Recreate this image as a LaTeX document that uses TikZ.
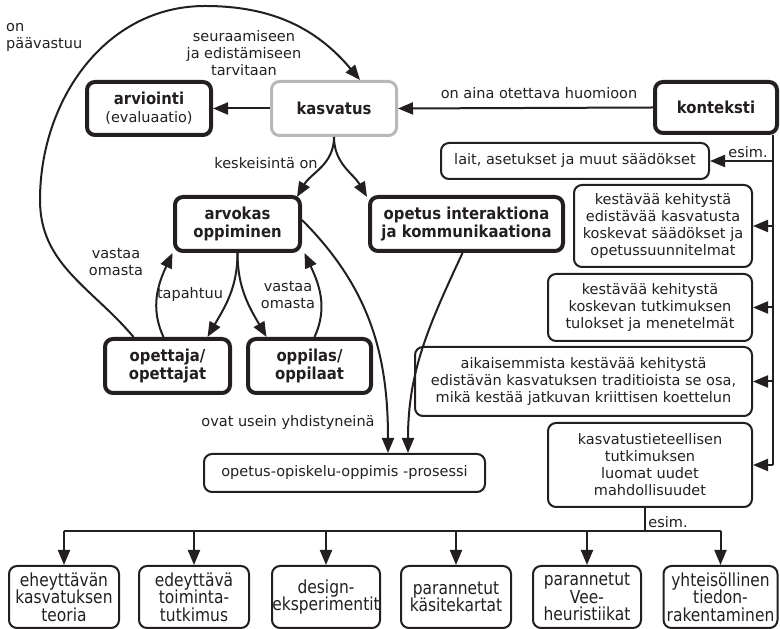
\documentclass[tikz,border=0pt]{standalone}
\usepackage{fontspec}
\setmainfont{DejaVu Sans}
\newfontfamily\narrowfont[FakeStretch=0.86]{DejaVu Sans}
\newfontfamily\headfont[FakeStretch=0.9]{DejaVu Sans}
\newcommand\plainline{\normalfont\fontsize{14.5}{18}\selectfont}
\usetikzlibrary{arrows.meta,calc}
\definecolor{ink}{HTML}{231F20}
\definecolor{paleedge}{HTML}{B8B8B8}
\begin{document}
\begin{tikzpicture}[x=1pt,y=1pt,
  every node/.style={font=\fontsize{14.5}{17}\selectfont, text=ink},
  box/.style={draw=ink, rounded corners=8pt, align=center, inner sep=0pt, line width=2pt},
  strongbox/.style={box, line width=4pt, font=\headfont\bfseries\fontsize{16.5}{18}\selectfont},
  greybox/.style={strongbox, draw=paleedge, line width=3pt},
  leafbox/.style={box, minimum height=62pt, font=\narrowfont\fontsize{18}{17.5}\selectfont},
  arr/.style={draw=ink, line width=2pt, -{Triangle[length=15pt,width=12pt]}},
  wire/.style={draw=ink, line width=2pt},
  lbl/.style={align=center, inner sep=0pt}
]
\useasboundingbox (0,0) rectangle (780,629);

% upper part
\node[greybox, minimum width=125pt, minimum height=54pt] (kasvatus) at (334,520.5) {kasvatus};
\node[strongbox, minimum width=124pt, minimum height=53pt] (arviointi) at (149,520.5) {arviointi\\{\plainline(evaluaatio)}};
\node[strongbox, minimum width=122pt, minimum height=51pt] (konteksti) at (716,521.5) {konteksti};

% context examples
\node[box, minimum width=268pt, minimum height=36pt] (lait) at (575,468) {lait, asetukset ja muut säädökset};
\node[box, minimum width=178pt, minimum height=82pt] (k1) at (663,403) {kestävää kehitystä\\edistävää kasvatusta\\koskevat säädökset ja\\opetussuunnitelmat};
\node[box, minimum width=204pt, minimum height=67pt] (k2) at (650,321.5) {kestävää kehitystä\\koskevan tutkimuksen\\tulokset ja menetelmät};
\node[box, minimum width=337pt, minimum height=69pt] (aik) at (583.5,247.5) {aikaisemmista kestävää kehitystä\\edistävän kasvatuksen traditioista se osa,\\mikä kestää jatkuvan kriittisen koettelun};
\node[box, minimum width=204pt, minimum height=84pt] (kt) at (650,164) {kasvatustieteellisen\\tutkimuksen\\luomat uudet\\mahdollisuudet};

% learning
\node[strongbox, minimum width=125pt, minimum height=54pt] (arvokas) at (237.5,405) {arvokas\\oppiminen};
\node[strongbox, minimum width=193pt, minimum height=54pt] (opetus) at (466.5,405) {opetus interaktiona\\ja kommunikaationa};
\node[strongbox, minimum width=125pt, minimum height=54pt] (opettaja) at (167.5,263) {opettaja/\\opettajat};
\node[strongbox, minimum width=123pt, minimum height=54pt] (oppilas) at (309.5,263) {oppilas/\\oppilaat};
\node[box, minimum width=281pt, minimum height=38pt] (process) at (344.5,156) {opetus-opiskelu-oppimis -prosessi};

% bottom row
\node[leafbox, minimum width=110pt] (b1) at (64,32) {eheyttävän\\kasvatuksen\\teoria};
\node[leafbox, minimum width=110pt] (b2) at (194,32) {edeyttävä\\toiminta-\\tutkimus};
\node[leafbox, minimum width=108pt] (b3) at (326,32) {design-\\eksperimentit};
\node[leafbox, minimum width=110pt] (b4) at (456,32) {parannetut\\käsitekartat};
\node[leafbox, minimum width=108pt] (b5) at (587,32) {parannetut\\Vee-\\heuristiikat};
\node[leafbox, minimum width=114pt] (b6) at (720.5,32) {yhteisöllinen\\tiedon-\\rakentaminen};

% helper coordinates
\coordinate (bus) at (773,0);
\coordinate (split) at (645,98);
\coordinate (left) at (40,429);
\coordinate (top) at (205,623);

% connectors at the top
\draw[arr] (kasvatus.west) -- (arviointi.east);
\draw[arr] (konteksti.west) -- (kasvatus.east);
\draw[arr] ([xshift=-34pt]opettaja.north) to[out=130,in=-90] (left) to[out=90,in=180] (top) to[out=0,in=130] ([xshift=26pt]kasvatus.north);
\draw[arr] (kasvatus.south) to[out=-90,in=60] ([xshift=-5pt,yshift=-2pt]arvokas.north east);
\draw[arr] (kasvatus.south) to[out=-90,in=120] ([xshift=-1pt,yshift=-2pt]opetus.north west);

% context bus
\draw[wire] (bus |- konteksti.south) -- (bus |- kt.east);
\draw[arr] (bus |- lait.east) -- (lait.east);
\draw[arr] (bus |- k1.east) -- (k1.east);
\draw[arr] (bus |- k2.east) -- (k2.east);
\draw[arr] (bus |- aik.east) -- (aik.east);
\draw[arr] (bus |- kt.east) -- (kt.east);

% learning loop
\draw[arr] (arvokas.south) to[out=-90,in=60] ([xshift=40pt]opettaja.north);
\draw[arr] (arvokas.south) to[out=-90,in=120] ([xshift=-43pt]oppilas.north);
\draw[arr] ([xshift=-4pt]opettaja.north) to[out=115,in=-115] ([xshift=-65pt]arvokas.south);
\draw[arr] ([xshift=5pt]oppilas.north) to[out=65,in=-65] ([xshift=67pt]arvokas.south);
\draw[arr] ([yshift=4pt]arvokas.east) to[out=-45,in=90] ([xshift=43.5pt]process.north);
\draw[arr] ([xshift=-4pt]opetus.south) to[out=-115,in=90] ([xshift=63.5pt]process.north);

% examples of new possibilities
\draw[wire] (kt.south -| split) -- (split);
\draw[wire] (b1.north |- split) -- (b6.north |- split);
\foreach \b in {b1,b2,b3,b4,b5,b6}
  \draw[arr] (\b.north |- split) -- (\b.north);

% labels
\node[lbl, align=left, anchor=west] (lon) at (6,592) {on\\päävastuu};
\node[lbl] (lseur) at (244,576) {seuraamiseen\\ja edistämiseen\\tarvitaan};
\node[lbl] (laina) at (539,536) {on aina otettava huomioon};
\node[lbl] (lesim) at (748,477) {esim.};
\node[lbl] (lkesk) at (266,466) {keskeisintä on};
\node[lbl] (lvas1) at (116,367) {vastaa\\omasta};
\node[lbl] (ltap) at (190,334) {tapahtuu};
\node[lbl] (lvas2) at (288,334) {vastaa\\omasta};
\node[lbl] (lovat) at (288,206) {ovat usein yhdistyneinä};
\node[lbl] (lesim2) at (668,107) {esim.};
\end{tikzpicture}
\end{document}
